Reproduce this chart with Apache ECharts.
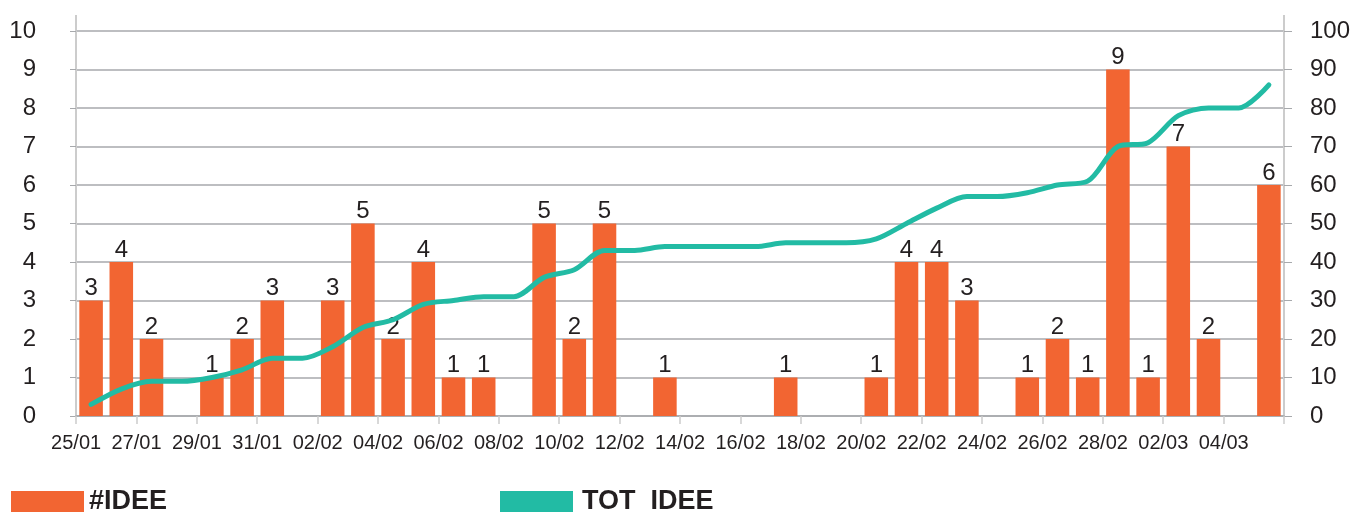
<!DOCTYPE html>
<html>
<head>
<meta charset="utf-8">
<script src="https://cdn.jsdelivr.net/npm/echarts@6/dist/echarts.min.js"></script>
<style>
  html, body { margin: 0; padding: 0; background: #fff; }
  #main { width: 1355px; height: 514px; }
</style>
</head>
<body>
<div id="main"></div>
<script>
// giorni
var dates = ['25/01', '26/01', '27/01', '28/01', '29/01', '30/01', '31/01',
  '01/02', '02/02', '03/02', '04/02', '05/02', '06/02', '07/02', '08/02', '09/02',
  '10/02', '11/02', '12/02', '13/02', '14/02', '15/02', '16/02', '17/02', '18/02',
  '19/02', '20/02', '21/02', '22/02', '23/02', '24/02', '25/02', '26/02', '27/02',
  '28/02', '01/03', '02/03', '03/03', '04/03', '05/03'];
// #IDEE per giorno
var idee = [3, 4, 2, 0, 1, 2, 3, 0, 3, 5, 2, 4, 1, 1, 0, 5, 2, 5, 0, 1, 0, 0, 0, 1, 0,
  0, 1, 4, 4, 3, 0, 1, 2, 1, 9, 1, 7, 2, 0, 6];
// TOT IDEE
var totIdee = [3, 7, 9, 9, 10, 12, 15, 15, 18, 23, 25, 29, 30, 31, 31, 36, 38, 43, 43, 44,
  44, 44, 44, 45, 45, 45, 46, 50, 54, 57, 57, 58, 60, 61, 70, 71, 78, 80, 80, 86];

var gridColor = '#A7A9AC';
var axisColor = '#CCCCCC';
var textColor = '#231F20';
var font = 'Liberation Sans, Arial, sans-serif';

var myChart = echarts.init(document.getElementById('main'));
var option = {
  backgroundColor: '#fff',
  animation: false,
  grid: { left: 76, right: 71, top: 31, bottom: 98 },
  // assi verticali che sporgono sopra l'area
  graphic: [
    { type: 'line', shape: { x1: 76, y1: 15, x2: 76, y2: 31 }, style: { stroke: axisColor, lineWidth: 2 } },
    { type: 'line', shape: { x1: 1284, y1: 15, x2: 1284, y2: 31 }, style: { stroke: axisColor, lineWidth: 2 } }
  ],
  legend: [
    {
      data: ['#IDEE'], left: 6, top: 483, icon: 'rect',
      itemWidth: 73, itemHeight: 21,
      textStyle: { color: textColor, fontSize: 27, fontWeight: 'bold', fontFamily: font }
    },
    {
      data: ['TOT  IDEE'], left: 495, top: 483, icon: 'rect',
      itemWidth: 73, itemHeight: 21,
      textStyle: { color: textColor, fontSize: 27, fontWeight: 'bold', fontFamily: font, padding: [0, 0, 0, 4] }
    }
  ],
  xAxis: {
    type: 'category',
    data: dates,
    axisLine: { lineStyle: { color: gridColor, width: 1.5 } },
    axisTick: { show: true, interval: 1, length: 8, lineStyle: { color: axisColor, width: 1.5 } },
    axisLabel: {
      interval: 1, margin: 17, color: textColor, fontSize: 20, fontFamily: font,
      padding: [0, 30, 0, 0]   // etichetta sul confine del giorno
    }
  },
  yAxis: [
    {
      type: 'value', min: 0, max: 10, interval: 1,
      axisLine: { show: true, lineStyle: { color: axisColor, width: 2 } },
      axisTick: { show: true, length: 6, lineStyle: { color: gridColor } },
      axisLabel: { margin: 40, color: textColor, fontSize: 24, fontFamily: font },
      splitLine: { lineStyle: { color: gridColor, width: 1.5 } }
    },
    {
      type: 'value', min: 0, max: 100, interval: 10,
      axisLine: { show: true, lineStyle: { color: axisColor, width: 2 } },
      axisTick: { show: true, length: 8, lineStyle: { color: gridColor } },
      axisLabel: { margin: 26, color: textColor, fontSize: 24, fontFamily: font },
      splitLine: { show: false }
    }
  ],
  series: [
    {
      name: '#IDEE',
      type: 'bar',
      data: idee,
      barCategoryGap: '22%',
      itemStyle: { color: '#F26532' },
      label: {
        show: true, position: 'top', distance: 0,
        color: textColor, fontSize: 24, fontFamily: font,
        formatter: function (p) { return p.value ? p.value : ''; }
      }
    },
    {
      name: 'TOT  IDEE',
      type: 'line',
      yAxisIndex: 1,
      data: totIdee,
      smooth: 0.3,
      showSymbol: false,
      symbol: 'none',
      itemStyle: { color: '#22BBA4' },
      lineStyle: { color: '#22BBA4', width: 5, cap: 'round', join: 'round' },
      z: 3
    }
  ]
};
myChart.setOption(option, true);
</script>
</body>
</html>
